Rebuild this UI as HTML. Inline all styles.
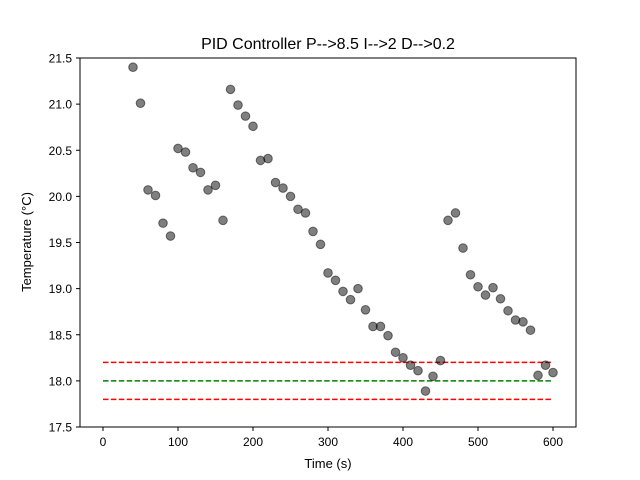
<!DOCTYPE html>
<html><head><meta charset="utf-8"><style>
body{margin:0;background:#fff;}
svg{display:block;font-family:"Liberation Sans","DejaVu Sans",sans-serif;}
</style></head><body>
<svg id="chart" width="640" height="480" xmlns="http://www.w3.org/2000/svg">
<rect width="640" height="480" fill="#fff"/>
<text x="328" y="49" text-anchor="middle" font-size="16">PID Controller P--&gt;8.5 I--&gt;2 D--&gt;0.2</text>
<g id="grid"></g>
<g id="marks"></g>
<rect x="80" y="58" width="496" height="369" fill="none" stroke="#000" stroke-width="1"/>
<text x="328" y="468" text-anchor="middle" font-size="13">Time (s)</text>
<text transform="translate(31,242) rotate(-90)" text-anchor="middle" font-size="13">Temperature (°C)</text>
</svg>
<script>
const times = [40,50,60,70,80,90,100,110,120,130,140,150,160,170,180,190,200,210,220,230,240,250,260,270,280,290,300,310,320,330,340,350,360,370,380,390,400,410,420,430,440,450,460,470,480,490,500,510,520,530,540,550,560,570,580,590,600];
const temps = [21.40,21.01,20.07,20.01,19.71,19.57,20.52,20.48,20.31,20.26,20.07,20.12,19.74,21.16,20.99,20.87,20.76,20.39,20.41,20.15,20.09,20.00,19.86,19.82,19.62,19.48,19.17,19.09,18.97,18.88,19.00,18.77,18.59,18.59,18.49,18.31,18.25,18.17,18.11,17.89,18.05,18.22,19.74,19.82,19.44,19.15,19.02,18.93,19.01,18.89,18.76,18.66,18.64,18.55,18.06,18.17,18.09];
const xTicks = [0,100,200,300,400,500,600];
const yTicks = [17.5,18.0,18.5,19.0,19.5,20.0,20.5,21.0,21.5];
const setpoint = 18.0;
const bandUpper = 18.2;
const bandLower = 17.8;
const lineStart = 0, lineEnd = 600;

const NS="http://www.w3.org/2000/svg";
const xs = v => 103 + v*0.75;
const ys = v => 427 - (v-17.5)*92.25;
const grid=document.getElementById('grid'), marks=document.getElementById('marks');
function mk(tag,attrs,parent){const e=document.createElementNS(NS,tag);for(const k in attrs)e.setAttribute(k,attrs[k]);parent.appendChild(e);return e;}

xTicks.forEach(t=>{
  const l=mk('line',{x1:xs(t),x2:xs(t),y1:427,y2:431,stroke:'#000'},grid);
  
  
  const tx=mk('text',{x:xs(t),y:446,'text-anchor':'middle','font-size':12},grid);
  tx.textContent=t;
  
  
});
yTicks.forEach(t=>{
  const l=mk('line',{x1:76,x2:80,y1:ys(t),y2:ys(t),stroke:'#000'},grid);
  
  
  const tx=mk('text',{x:72,y:ys(t)+4.5,'text-anchor':'end','font-size':12},grid);
  tx.textContent=t.toFixed(1);
  
  
});
[[bandUpper,'#ff0000','upper-limit-line'],[setpoint,'#008000','setpoint-line'],[bandLower,'#ff0000','lower-limit-line']].forEach(([v,c,n])=>{
  const l=mk('line',{x1:xs(lineStart),x2:xs(lineEnd),y1:ys(v),y2:ys(v),stroke:c,'stroke-width':1.5,'stroke-dasharray':'5.5,2.4'},marks);
  
  
});
times.forEach((t,i)=>{
  const c=mk('circle',{cx:xs(t),cy:ys(temps[i]),r:4.3,fill:'rgba(0,0,0,0.5)',stroke:'rgba(0,0,0,0.5)','stroke-width':1},marks);
  
  
});
</script>
</body></html>
